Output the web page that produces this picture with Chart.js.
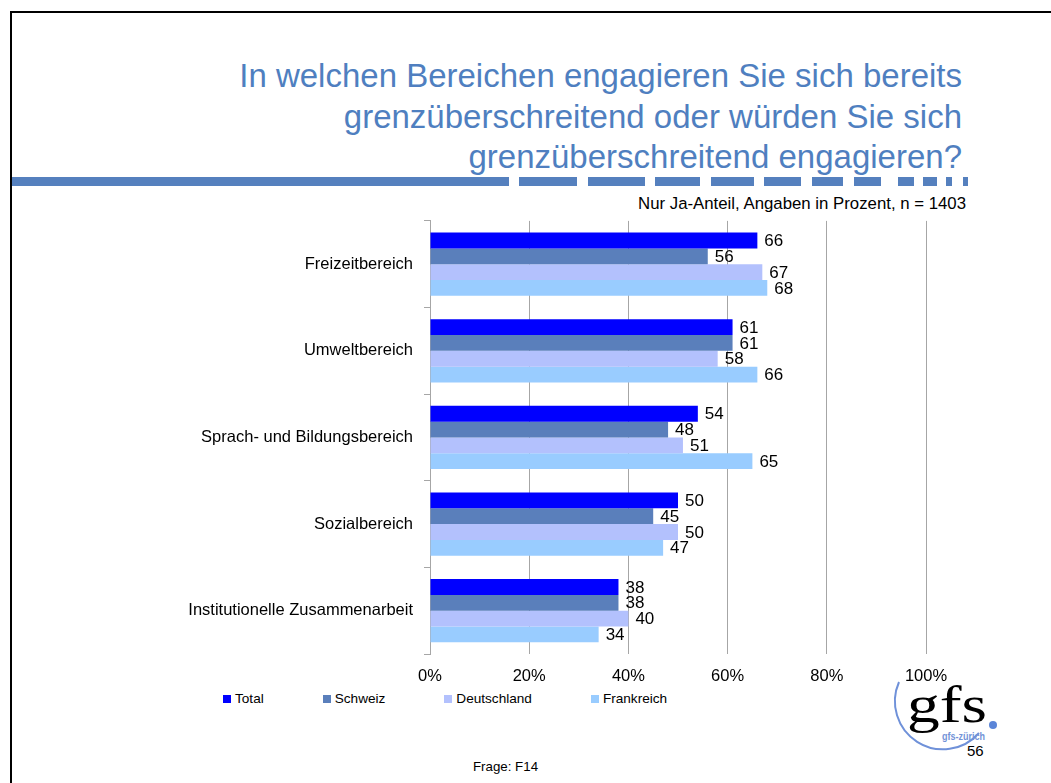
<!DOCTYPE html>
<html>
<head>
<meta charset="utf-8">
<script src="https://cdn.jsdelivr.net/npm/chart.js@4.4.0/dist/chart.umd.min.js"></script>
<style>
  html, body { margin: 0; padding: 0; background: #fff; }
  body { width: 1051px; height: 783px; position: relative; overflow: hidden;
         font-family: "Liberation Sans", Arial, sans-serif; color: #000; }
  .frame { position: absolute; left: 10px; top: 11px; right: -5px; bottom: -5px;
           border-top: 2px solid #000; border-left: 2px solid #000; }
  .title { position: absolute; right: 89px; top: 56px; text-align: right;
           font-size: 33px; line-height: 40.5px; color: #4F7FC0; white-space: nowrap; z-index: 2; }
  .dash { position: absolute; top: 177px; height: 9px; background: #5580BE; }
  .note { position: absolute; right: 85px; top: 194px; font-size: 16.8px; white-space: nowrap; }
  #wrap { position: absolute; left: 170px; top: 200px; width: 820px; height: 500px; z-index: 3; }
  .legend { position: absolute; left: 223px; top: 690px; display: flex; font-size: 13.6px; line-height: 18px; }
  .legend span.item { display: flex; align-items: center; margin-right: 59px; }
  .legend i { display: inline-block; width: 8px; height: 8px; margin-right: 4px; }
  .logo { position: absolute; left: 860px; top: 660px; z-index: 1; display: block; }
  .page { position: absolute; left: 967px; top: 742px; font-size: 15px; }
  .frage { position: absolute; left: 473px; top: 759px; font-size: 13.3px; }
</style>
</head>
<body>
<div class="frame"></div>
<div class="title">In welchen Bereichen engagieren Sie sich bereits<br>grenzüberschreitend oder würden Sie sich<br>grenzüberschreitend engagieren?</div>
<div id="dashes"></div>
<div class="note">Nur Ja-Anteil, Angaben in Prozent, n = 1403</div>

<svg class="logo" width="191" height="123" viewBox="0 0 191 123">
  <path d="M 39 22 A 48 48 0 0 0 119 73" fill="none" stroke="#6F91D9" stroke-width="2"/>
  <text x="47" y="62" font-family="Liberation Serif, Times New Roman, serif" font-size="52" textLength="80" lengthAdjust="spacingAndGlyphs" fill="#000">gfs</text>
  <circle cx="133" cy="65" r="4" fill="#5B85D8"/>
  <text x="82" y="80" font-family="Liberation Sans, Arial, sans-serif" font-size="10" font-weight="bold" textLength="43" lengthAdjust="spacingAndGlyphs" fill="#7393D8">gfs-zürich</text>
</svg>

<div id="wrap"><canvas id="barChart" width="820" height="500"></canvas></div>
<div class="legend" id="legend"></div>
<div class="page">56</div>
<div class="frage">Frage: F14</div>

<script>
  const categories = ['Freizeitbereich', 'Umweltbereich', 'Sprach- und Bildungsbereich', 'Sozialbereich', 'Institutionelle Zusammenarbeit'];
  const seriesNames = ['Total', 'Schweiz', 'Deutschland', 'Frankreich'];
  const total = [66, 61, 54, 50, 38];
  const schweiz = [56, 61, 48, 45, 38];
  const deutschland = [67, 58, 51, 50, 40];
  const frankreich = [68, 66, 65, 47, 34];
  const xTicks = [0, 20, 40, 60, 80, 100];

  const colors = ['#0000FF', '#5A7FBB', '#B3C1FD', '#99CCFF'];
  const font = '"Liberation Sans", Arial, sans-serif';

  // dashed rule under the title (solid part, then shrinking dashes)
  const dashSegments = [[12, 509], [519, 577], [588, 645], [655, 700], [711, 754], [764, 801],
                        [812, 843], [854, 881], [898, 914], [923, 937], [946, 952], [963, 968]];
  const dashBox = document.getElementById('dashes');
  dashSegments.forEach(([a, b]) => {
    const d = document.createElement('div');
    d.className = 'dash';
    d.style.left = a + 'px';
    d.style.width = (b - a) + 'px';
    dashBox.appendChild(d);
  });

  // legend
  const legendBox = document.getElementById('legend');
  seriesNames.forEach((name, i) => {
    const item = document.createElement('span');
    item.className = 'item';
    item.innerHTML = '<i style="background:' + colors[i] + '"></i>' + name;
    legendBox.appendChild(item);
  });

  // Zahlen rechts neben den Balken
  const valueLabels = {
    id: 'valueLabels',
    afterDatasetsDraw(chart) {
      const ctx = chart.ctx;
      ctx.save();
      ctx.font = '17px ' + font;
      ctx.fillStyle = '#000';
      ctx.textBaseline = 'middle';
      chart.data.datasets.forEach((ds, i) => {
        chart.getDatasetMeta(i).data.forEach((bar, j) => {
          ctx.fillText(String(Math.round(ds.data[j])), bar.x + 7, bar.y + 1);
        });
      });
      ctx.restore();
    }
  };

  const allSeries = [total, schweiz, deutschland, frankreich];

  new Chart(document.getElementById('barChart'), {
    type: 'bar',
    data: {
      labels: categories,
      datasets: seriesNames.map((name, i) => ({
        label: name,
        data: allSeries[i],
        backgroundColor: colors[i],
        borderWidth: 0,
        barPercentage: 1,
        categoryPercentage: 0.73
      }))
    },
    plugins: [valueLabels],
    options: {
      indexAxis: 'y',
      responsive: false,
      animation: false,
      devicePixelRatio: 1,
      layout: { padding: { top: 19, right: 64, left: 0, bottom: 0 } },
      plugins: {
        legend: { display: false },
        tooltip: { enabled: false }
      },
      scales: {
        x: {
          min: 0,
          max: 100,
          afterBuildTicks(scale) { scale.ticks = xTicks.map(v => ({ value: v })); },
          afterFit(scale) { scale.height = 46; },
          grid: { color: '#A6A6A6', lineWidth: 1, drawTicks: false },
          border: { display: false },
          ticks: {
            padding: 13,
            maxRotation: 0,
            color: '#000',
            font: { family: font, size: 16.5 },
            callback: v => v + '%'
          }
        },
        y: {
          afterFit(scale) { scale.width = 260; },
          grid: { offset: true, drawOnChartArea: false, tickLength: 6, color: '#A6A6A6' },
          border: { display: true, color: '#A6A6A6' },
          ticks: {
            padding: 11,
            color: '#000',
            font: { family: font, size: 16.5 }
          }
        }
      }
    }
  });
</script>
</body>
</html>
